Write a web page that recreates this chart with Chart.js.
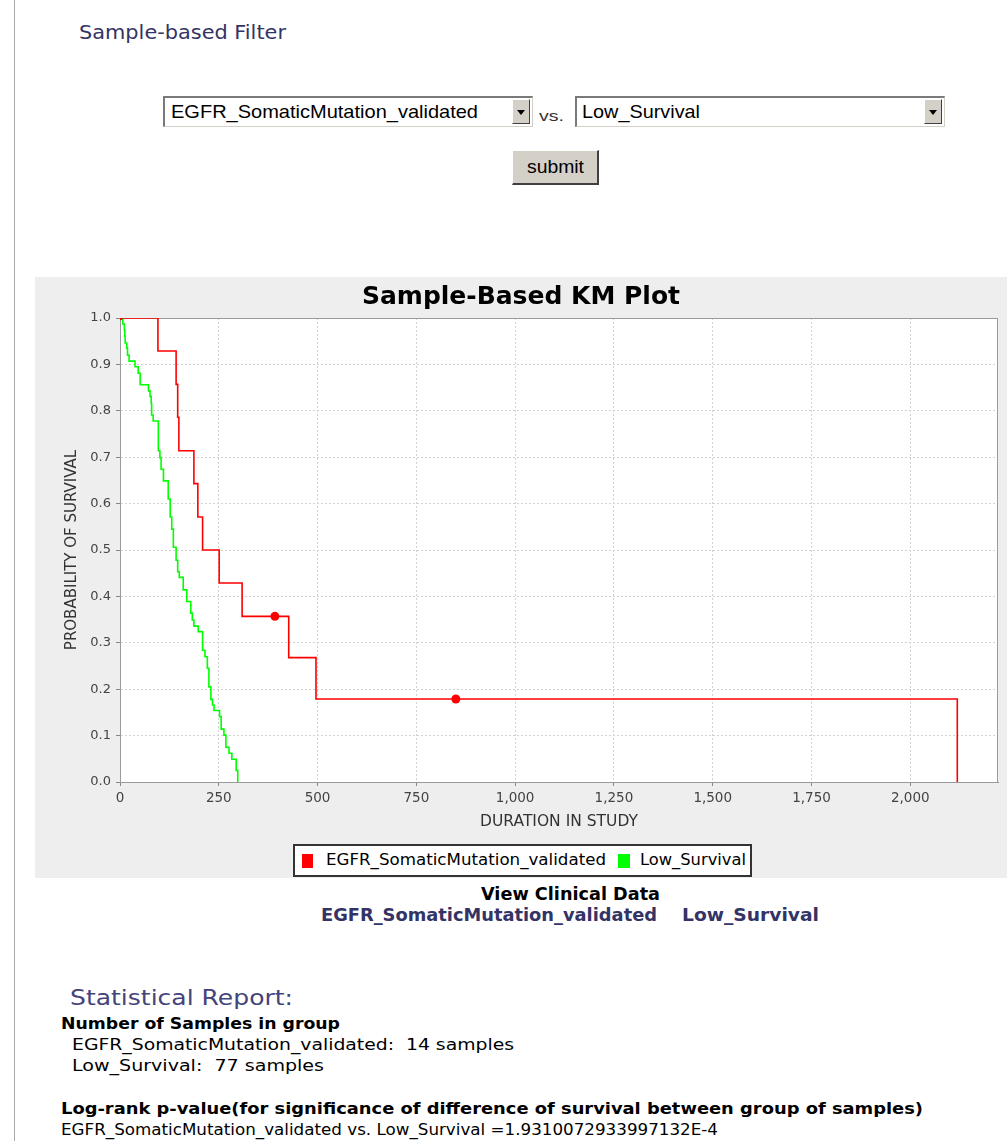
<!DOCTYPE html>
<html>
<head>
<meta charset="utf-8">
<script src="https://cdn.jsdelivr.net/npm/chart.js@4/dist/chart.umd.min.js"></script>
<style>
  html, body { margin: 0; padding: 0; background: #fff; overflow: hidden; }
  body { width: 1007px; height: 1141px; position: relative; font-family: "DejaVu Sans", sans-serif; }
  .t { position: absolute; white-space: pre; display: inline-block; transform-origin: left center; }
  .sel { position: absolute; height: 31px; width: 370px; background: #fff; box-sizing: border-box;
         border-top: 2px solid #7a7a7a; border-left: 2px solid #7a7a7a; border-right: 1px solid #d4d0c8; border-bottom: 1px solid #d4d0c8; }
  .arrow { position: absolute; right: 2px; top: 1px; width: 18px; height: 25px; background: #d4d0c8; box-sizing: border-box;
           border-top: 1px solid #fff; border-left: 1px solid #fff; border-right: 1px solid #404040; border-bottom: 1px solid #404040; }
  .arrow:after { content: ""; position: absolute; left: 4px; top: 10px; border-left: 4px solid transparent; border-right: 4px solid transparent; border-top: 5px solid #000; }
  .btn { position: absolute; left: 512px; top: 150px; width: 87px; height: 35px; background: #d4d0c8; box-sizing: border-box;
         border-top: 1px solid #fff; border-left: 1px solid #fff; border-right: 2px solid #404040; border-bottom: 2px solid #404040; }
  #panel { position: absolute; left: 35px; top: 277px; width: 972px; height: 601px; background: #eeeeee; }
  #legend { position: absolute; left: 258px; top: 567px; width: 459px; height: 33px; background: #fff; box-sizing: border-box; border: 2px solid #333; }
  .sw { position: absolute; top: 8px; width: 11px; height: 14px; }
  #vline { position: absolute; left: 14px; top: 0; width: 1px; height: 1141px; background: #aaa; }
</style>
</head>
<body>
<div id="vline"></div>

<span class="t" data-w="207" style="left:79px;top:20px;font-size:19px;line-height:24px;color:#333366;">Sample-based Filter</span>

<div class="sel" style="left:163px;top:96px;"><div class="arrow"></div></div>
<span class="t" data-w="307" style="left:171px;top:100px;font-family:'Liberation Sans';font-size:19px;line-height:24px;color:#000;">EGFR_SomaticMutation_validated</span>
<span class="t" data-w="25" style="left:539px;top:106px;font-family:'Liberation Sans';font-size:15px;line-height:20px;color:#333;">vs.</span>
<div class="sel" style="left:575px;top:96px;"><div class="arrow"></div></div>
<span class="t" data-w="118" style="left:582px;top:100px;font-family:'Liberation Sans';font-size:19px;line-height:24px;color:#000;">Low_Survival</span>
<div class="btn"></div>
<span class="t" data-w="57" style="left:527px;top:155px;font-family:'Liberation Sans';font-size:18px;line-height:24px;color:#000;">submit</span>

<div id="panel">
  <canvas id="km"></canvas>
  <div id="legend">
    <div class="sw" style="left:7px;background:#ff0000;"></div>
    <span class="t" data-w="280" style="left:31px;top:3px;font-size:15px;line-height:22px;color:#000;">EGFR_SomaticMutation_validated</span>
    <div class="sw" style="left:323px;width:12px;background:#00ff00;"></div>
    <span class="t" data-w="106" style="left:345px;top:3px;font-size:15px;line-height:22px;color:#000;">Low_Survival</span>
  </div>
</div>

<span class="t" data-w="179" style="left:481px;top:883px;font-weight:bold;font-size:17px;line-height:22px;color:#000;">View Clinical Data</span>
<span class="t" data-w="336" style="left:321px;top:904px;font-weight:bold;font-size:17px;line-height:22px;color:#333366;">EGFR_SomaticMutation_validated</span>
<span class="t" data-w="137" style="left:682px;top:904px;font-weight:bold;font-size:17px;line-height:22px;color:#333366;">Low_Survival</span>

<span class="t" data-w="223" style="left:70px;top:985px;font-size:22px;line-height:26px;color:#44447a;">Statistical Report:</span>
<span class="t" data-w="279" style="left:61px;top:1013px;font-weight:bold;font-size:16px;line-height:22px;color:#000;">Number of Samples in group</span>
<span class="t" data-w="442" style="left:72px;top:1034px;font-size:16px;line-height:22px;color:#000;">EGFR_SomaticMutation_validated:  14 samples</span>
<span class="t" data-w="252" style="left:72px;top:1055px;font-size:16px;line-height:22px;color:#000;">Low_Survival:  77 samples</span>
<span class="t" data-w="862" style="left:61px;top:1098px;font-weight:bold;font-size:16px;line-height:22px;color:#000;">Log-rank p-value(for significance of difference of survival between group of samples)</span>
<span class="t" data-w="657" style="left:61px;top:1119px;font-size:16px;line-height:22px;color:#000;">EGFR_SomaticMutation_validated vs. Low_Survival =1.9310072933997132E-4</span>

<script>
// red group: EGFR_SomaticMutation_validated (14 samples)
const redTimes = [0, 96, 142, 146, 149, 187, 197, 209, 251, 309, 427, 496, 2119];
const redSurvival = [1.0, 0.929, 0.857, 0.786, 0.714, 0.643, 0.571, 0.5, 0.429, 0.357, 0.268, 0.179, 0];
const redCensored = [392, 850];

// green group: Low_Survival (77 samples)
const greenTimes = [0, 7, 11, 12, 13, 17, 19, 23, 38, 46, 51, 72, 76, 79, 80, 84, 97, 101, 104, 110,
  122, 127, 131, 135, 142, 146, 150, 160, 169, 179, 183, 187, 198, 209, 215, 221, 225, 230, 234, 238,
  252, 256, 263, 268, 276, 283, 294, 298];
const greenSurvival = [1.0, 0.987, 0.974, 0.961, 0.946, 0.935, 0.920, 0.907, 0.895, 0.881, 0.856, 0.843, 0.831, 0.816, 0.791, 0.778, 0.714, 0.699, 0.674, 0.649,
  0.610, 0.571, 0.545, 0.506, 0.478, 0.453, 0.441, 0.414, 0.389, 0.364, 0.349, 0.336, 0.324, 0.284, 0.270, 0.245, 0.205, 0.178, 0.166, 0.154,
  0.141, 0.114, 0.101, 0.075, 0.062, 0.049, 0.025, 0];

const groupNames = ["EGFR_SomaticMutation_validated", "Low_Survival"];
const xTicks = [0, 250, 500, 750, 1000, 1250, 1500, 1750, 2000];
const yTickStep = 0.1;

// squeeze html text to the widths seen in the picture
document.querySelectorAll("[data-w]").forEach(el => {
  const w = el.getBoundingClientRect().width;
  el.style.transform = "scaleX(" + (el.dataset.w / w) + ")";
});

function survivalAt(times, surv, t) {
  let s = surv[0];
  for (let i = 0; i < times.length; i++) {
    if (times[i] <= t) s = surv[i];
  }
  return s;
}

const plotFrame = {
  id: "plotFrame",
  beforeDraw(chart) {
    const { ctx, chartArea: a } = chart;
    ctx.save();
    ctx.fillStyle = "#ffffff";
    ctx.fillRect(a.left, a.top, a.right - a.left, a.bottom - a.top);
    ctx.restore();
  },
  beforeDatasetsDraw(chart) {
    const { ctx, chartArea: a } = chart;
    ctx.save();
    ctx.strokeStyle = "#9a9a9a";
    ctx.lineWidth = 1;
    ctx.strokeRect(a.left + 0.5, a.top + 0.5, a.right - a.left - 1, a.bottom - a.top);
    ctx.restore();
  }
};

new Chart(document.getElementById("km"), {
  type: "line",
  data: {
    datasets: [
      {
        label: groupNames[0],
        data: redTimes.map((t, i) => ({ x: t, y: redSurvival[i] })),
        borderColor: "#ff0000",
        backgroundColor: "#ff0000",
        borderWidth: 1.6,
        stepped: "before",
        pointStyle: "rect",
        pointRadius: ctx => ctx.dataIndex === 0 ? 3 : 0,
        pointBorderWidth: 0,
        fill: false
      },
      {
        label: groupNames[0] + " censored",
        data: redCensored.map(t => ({ x: t, y: survivalAt(redTimes, redSurvival, t) })),
        showLine: false,
        pointRadius: 4.5,
        pointBorderWidth: 0,
        backgroundColor: "#ff0000",
        borderColor: "#ff0000"
      },
      {
        label: groupNames[1],
        data: greenTimes.map((t, i) => ({ x: t, y: greenSurvival[i] })),
        borderColor: "#00ff00",
        backgroundColor: "#00ff00",
        borderWidth: 1.6,
        stepped: "before",
        pointRadius: 0,
        fill: false
      }
    ]
  },
  options: {
    responsive: true,
    maintainAspectRatio: false,
    devicePixelRatio: 1,
    animation: false,
    layout: { padding: { left: 9, right: 9, top: 0, bottom: 36 } },
    plugins: {
      legend: { display: false },
      tooltip: { enabled: false },
      title: {
        display: true,
        text: "Sample-Based KM Plot",
        color: "#000",
        font: { family: "DejaVu Sans", size: 25, weight: "bold", lineHeight: 1.2 },
        padding: { top: 5, bottom: 6 }
      }
    },
    scales: {
      x: {
        type: "linear",
        min: 0,
        max: 2222,
        afterFit: s => { s.height = 60; },
        afterBuildTicks: s => { s.ticks = xTicks.map(v => ({ value: v })); },
        ticks: {
          color: "#444",
          padding: 4,
          autoSkip: false,
          font: { family: "DejaVu Sans", size: 13.5 },
          maxRotation: 0,
          callback: v => v.toLocaleString("en-US")
        },
        grid: { color: "#d2d2d2", tickColor: "#888", tickLength: 4, tickBorderDash: [] },
        border: { color: "#888", width: 1, dash: [2, 2] },
        title: {
          display: true,
          text: "DURATION IN STUDY",
          color: "#333",
          font: { family: "DejaVu Sans", size: 15.5 },
          padding: { top: 0, bottom: 11 }
        }
      },
      y: {
        min: 0,
        max: 1,
        afterFit: s => { s.width = 76; },
        ticks: {
          stepSize: yTickStep,
          color: "#444",
          padding: 5,
          font: { family: "DejaVu Sans", size: 13 },
          callback: v => v.toFixed(1)
        },
        grid: { color: "#d2d2d2", tickColor: "#888", tickLength: 4, tickBorderDash: [] },
        border: { color: "#888", width: 1, dash: [2, 2] },
        title: {
          display: true,
          text: "PROBABILITY OF SURVIVAL",
          color: "#333",
          font: { family: "DejaVu Sans", size: 15 },
          padding: { top: 19, bottom: 0 }
        }
      }
    }
  },
  plugins: [plotFrame]
});
</script>
</body>
</html>
